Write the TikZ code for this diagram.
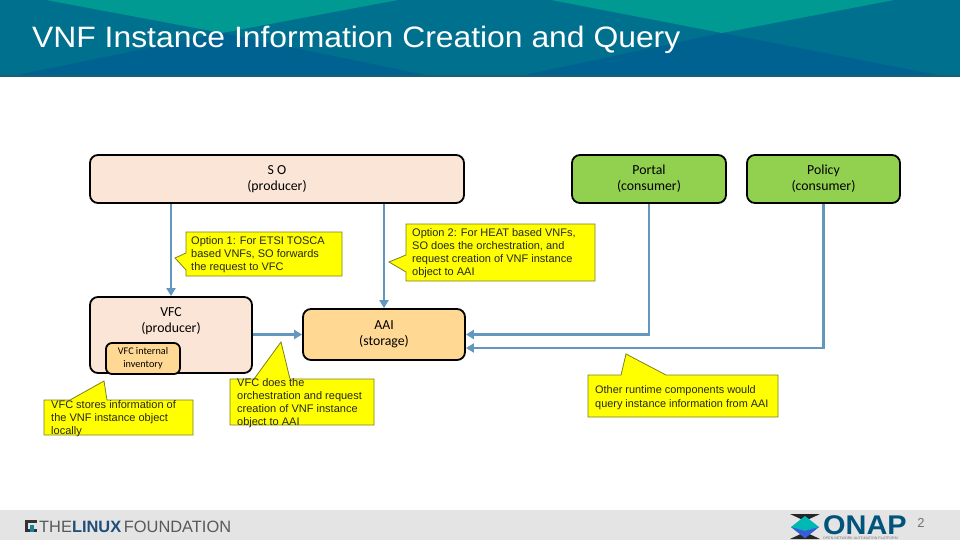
\documentclass[tikz,border=0pt]{standalone}
\usepackage{graphicx}
\usepackage{fontspec}
\setmainfont{Liberation Sans}
\newfontfamily\boxfont{Carlito}
\usetikzlibrary{arrows.meta}
\definecolor{hbase}{HTML}{00708F}
\definecolor{hteal}{HTML}{009A93}
\definecolor{hdark}{HTML}{006290}
\definecolor{link}{HTML}{6497BE}
\definecolor{peach}{HTML}{FBE5D6}
\definecolor{sand}{HTML}{FFD993}
\definecolor{leaf}{HTML}{92D050}
\definecolor{calloutline}{HTML}{7F7F20}
\definecolor{noteyellow}{rgb}{1,1,0}
\definecolor{foot}{HTML}{E4E4E4}
\definecolor{lfblue}{HTML}{1F4E79}
\tikzset{
  x=1pt,y=-1pt,
  block/.style={draw=black,line width=1.8pt,rounded corners=8pt,align=center,inner sep=0pt,text=black,
    font=\boxfont\fontsize{13.8}{16}\selectfont,execute at begin node=\rule{0pt}{12pt}},
  link/.style={draw=link,line width=2.4pt,-{Triangle[length=8pt,width=9pt]}},
  callout/.style={fill=noteyellow,draw=calloutline,line width=0.8pt},
  note/.style={anchor=north west,inner sep=0pt,align=left,text=black!85,
    font=\fontsize{11}{13.1}\selectfont},
}
\begin{document}
\begin{tikzpicture}
\useasboundingbox (0,0) rectangle (960,540);
% header
\fill[hbase] (0,0) rectangle (960,76);
\fill[hteal] (46,0) -- (398,0) -- (222,33) -- cycle;
\fill[hteal] (551,0) -- (894,0) -- (722,33) -- cycle;
\fill[hdark] (12,76) -- (222,33) -- (430,76) -- cycle;
\fill[hdark] (520,76) -- (722,33) -- (943,76) -- cycle;
\fill[hbase!70!black!90] (0,75.5) rectangle (960,77);
\node[anchor=base west,inner sep=0pt,text=white,font=\fontsize{29.5}{34}\selectfont] (title) at (32,48) {\scalebox{1.08}[1]{VNF Instance Information Creation and Query}};
% footer
\fill[foot] (0,510) rectangle (960,540);
\fill[black!80] (25,520) rectangle (37,532);
\fill[foot] (28,523) rectangle (37,529);
\fill[lfblue!70!cyan] (30,525) rectangle (34,532);
\node[anchor=base west,inner sep=0pt,text=black!65,font=\fontsize{16.4}{17}\selectfont] (lf) at (39,532) {THE\textcolor{lfblue}{\textbf{LINUX}}\,FOUNDATION};
\fill[black!85] (790,514) -- (820,514) -- (805,521) -- cycle;
\fill[black!85] (790,539) -- (820,539) -- (805,532) -- cycle;
\fill[hteal!70!cyan] (805,516) -- (819,527) -- (805,538) -- (791,527) -- cycle;
\fill[link!60!blue] (791,527) -- (805,538) -- (819,527) -- (805,531) -- cycle;
\node[anchor=base west,inner sep=0pt,text=hdark!85!black,font=\bfseries\fontsize{27}{27}\selectfont] (onap) at (823,534.5) {\scalebox{1.07}[1]{ONAP}};
\node[anchor=base west,inner sep=0pt,text=black!55,font=\fontsize{3.6}{4}\selectfont] (onaps) at (823,539.5) {OPEN NETWORK AUTOMATION PLATFORM};
\node[anchor=base,inner sep=0pt,text=black!55,font=\fontsize{13}{14}\selectfont] (page) at (921,527) {2};
% blocks
\node[block,fill=peach,minimum width=374pt,minimum height=48pt] (so) at (277,179) {S O\\(producer)};
\node[block,fill=leaf,minimum width=154pt,minimum height=48pt] (portal) at (649,179) {Portal\\(consumer)};
\node[block,fill=leaf,minimum width=153pt,minimum height=48pt] (policy) at (823.5,179) {Policy\\(consumer)};
\node[block,fill=peach,minimum width=162pt,minimum height=76pt,execute at begin node={}] (vfc) at (171,335) {};
\node[inner sep=0pt,align=center,font=\boxfont\fontsize{13.8}{16}\selectfont] (vfclabel) at (171,321) {VFC\\(producer)};
\node[block,fill=sand,minimum width=162pt,minimum height=51pt] (aai) at (384,334.5) {AAI\\(storage)};
\node[block,fill=sand,minimum width=74pt,minimum height=31pt,rounded corners=6pt,
  font=\boxfont\fontsize{10.2}{13}\selectfont,execute at begin node=\rule{0pt}{9.5pt}] (inv) at (143,358.5) {VFC internal\\inventory};
% connectors
\coordinate (policyin) at (aai.east |- 0,348);
\coordinate (policycorner) at (policy.south |- policyin);
\coordinate (portalcorner) at (portal.south |- aai.east);
\draw[link] (so.south -| vfc.north) -- (vfc.north);
\draw[link] (so.south -| aai.north) -- (aai.north);
\draw[link] (vfc.east |- aai.west) -- (aai.west);
\draw[link] (portal.south) -- (portalcorner) -- (aai.east);
\draw[link] (policy.south) -- (policycorner) -- (policyin);
% callouts
\draw[callout] (186,232) -- (342,232) -- (342,276) -- (186,276) -- (186,270) -- (175,258) -- (186,253) -- cycle;
\node[note] (n1) at (191,236.5) {Option 1: For ETSI TOSCA\\based VNFs, SO forwards\\the request to VFC};
\draw[callout] (406,224) -- (595,224) -- (595,281) -- (406,281) -- (406,272) -- (389,262) -- (406,255) -- cycle;
\node[note] (n2) at (412,228.5) {Option 2: For HEAT based VNFs,\\SO does the orchestration, and\\request creation of VNF instance\\object to AAI};
\draw[callout] (588,375) -- (621,375) -- (626,354) -- (666,375) -- (778,375) -- (778,417) -- (588,417) -- cycle;
\node[note,font=\fontsize{10.9}{14}\selectfont] (n3) at (595,385.5) {Other runtime components would\\query instance information from AAI};
\draw[callout] (230,379) -- (254,379) -- (281,342) -- (290,379) -- (374,379) -- (374,425) -- (230,425) -- cycle;
\node[note] (n4) at (237,378.5) {VFC does the\\orchestration and request\\creation of VNF instance\\object to AAI};
\draw[callout] (44,400) -- (70,400) -- (104,381) -- (107,400) -- (193,400) -- (193,435) -- (44,435) -- cycle;
\node[note] (n5) at (51,400.5) {VFC stores information of\\the VNF instance object\\locally};
\end{tikzpicture}
\end{document}
